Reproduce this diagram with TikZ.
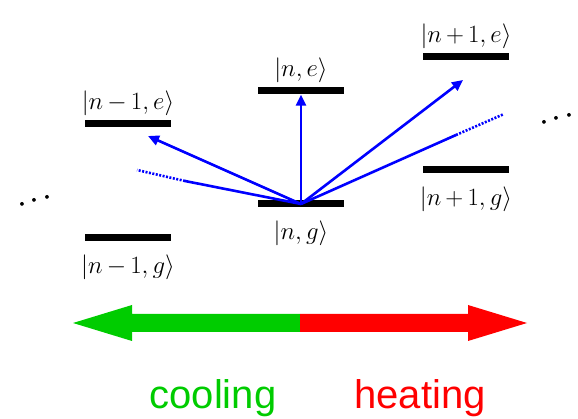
\documentclass[tikz,border=0pt]{standalone}
\usepackage{fontspec}
\newfontfamily\heatfont{Liberation Sans}
\usetikzlibrary{arrows.meta,positioning}
\definecolor{coolgreen}{RGB}{0,204,0}
\definecolor{heatred}{RGB}{255,0,0}

\begin{document}
\begin{tikzpicture}[x=1pt, y=-1pt,
    level/.style={fill=black, minimum width=86pt, minimum height=7pt, inner sep=0pt},
    ket/.style={font=\fontsize{24}{28}\selectfont, inner sep=1pt},
    more/.style={font=\fontsize{32}{36}\selectfont\boldmath, inner sep=0pt, rotate=17},
    beam/.style={draw=blue, line width=2.6pt, -{Triangle[length=11pt,width=10pt]}},
    fade/.style={draw=blue, line width=2.6pt, dash pattern=on 2pt off 1.5pt}]
  \useasboundingbox (0,0) rectangle (578,419);

  % niveaux
  \node[level] (nme) at (128,124) {};
  \node[level] (nmg) at (128,238) {};
  \node[level] (ne)  at (301,91)  {};
  \node[level] (ng)  at (301,204) {};
  \node[level] (npe) at (466,57)  {};
  \node[level] (npg) at (466,170) {};

  \node[ket, above=3pt of nme] (lnme) {$|n\,{-}\,1,e\rangle$};
  \node[ket, below=12pt of nmg] (lnmg) {$|n\,{-}\,1,g\rangle$};
  \node[ket, above=3pt of ne]  (lne)  {$|n,e\rangle$};
  \node[ket, below=12pt of ng]  (lng)  {$|n,g\rangle$};
  \node[ket, above=3pt of npe] (lnpe) {$|n\,{+}\,1,e\rangle$};
  \node[ket, below=12pt of npg] (lnpg) {$|n\,{+}\,1,g\rangle$};

  \node[more] (dl) at (35,201)  {$\cdots$};
  \node[more] (dr) at (557,119) {$\cdots$};

  \coordinate (tl) at (148,136);
  \coordinate (tr) at (463,80);
  \coordinate (sl) at (185,181);
  \coordinate (el) at (137,170);
  \coordinate (sr) at (456,135);
  \coordinate (er) at (504,114);

  \draw[beam] (ng.center) -- (ne.south);
  \draw[beam] (ng.center) -- (tl);
  \draw[beam] (ng.center) -- (tr);
  \draw[draw=blue, line width=2.6pt] (ng.center) -- (sl);
  \draw[fade] (sl) -- (el);
  \draw[draw=blue, line width=2.6pt] (ng.center) -- (sr);
  \draw[fade] (sr) -- (er);

  % grande fleche
  \fill[coolgreen] (300,314) -- (132,314) -- (132,305) -- (73,323) -- (132,341) -- (132,332) -- (300,332) -- cycle;
  \fill[heatred] (300,314) -- (468,314) -- (468,305) -- (527,323) -- (468,341) -- (468,332) -- (300,332) -- cycle;

  \node[anchor=base, text=coolgreen, font=\heatfont\fontsize{40}{44}\selectfont, inner sep=0pt] (cool) at (213,408) {cooling};
  \node[anchor=base, text=heatred, font=\heatfont\fontsize{40}{44}\selectfont, inner sep=0pt] (heat) at (420,408) {heating};
\end{tikzpicture}
\end{document}
